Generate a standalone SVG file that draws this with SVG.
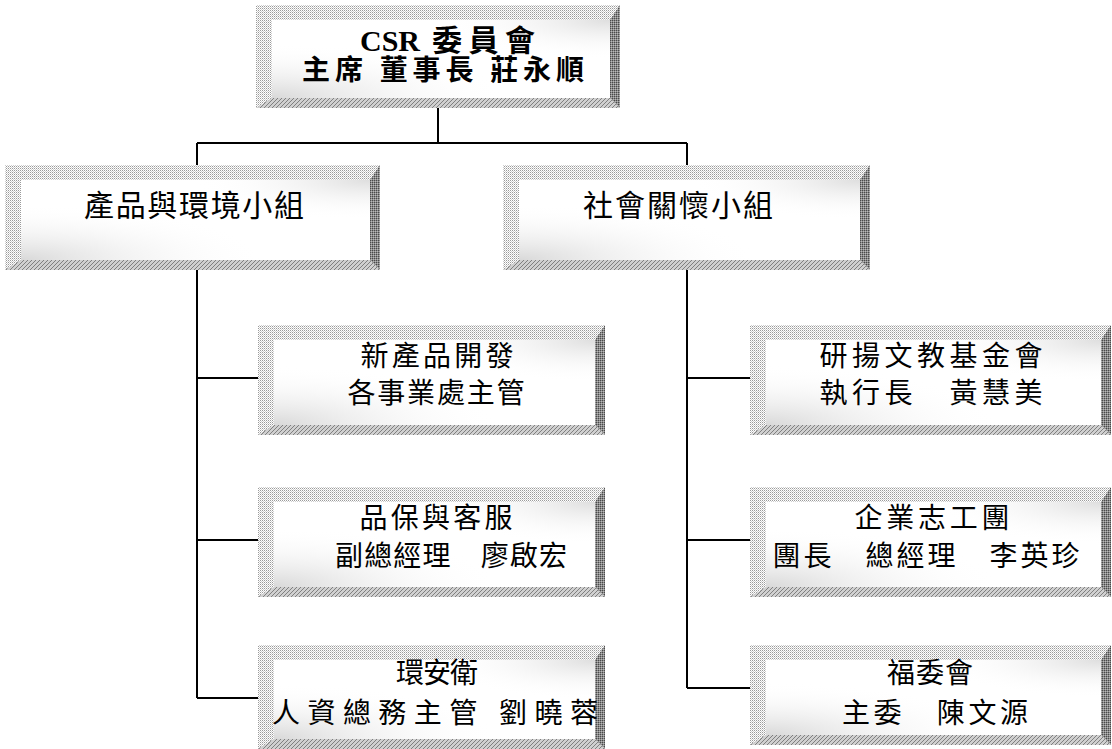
<svg xmlns="http://www.w3.org/2000/svg" width="1112" height="749" viewBox="0 0 1112 749">
<defs>
<pattern id="dither" width="2" height="2" patternUnits="userSpaceOnUse"><rect width="2" height="2" fill="#ffffff"/><rect width="1" height="1" fill="#9a9a9a"/><rect x="1" y="1" width="1" height="1" fill="#cfcfcf"/></pattern>
<pattern id="dark" width="2" height="2" patternUnits="userSpaceOnUse"><rect width="2" height="2" fill="#8a8a8a"/><rect width="1" height="1" fill="#4a4a4a"/><rect x="1" y="1" width="1" height="1" fill="#b8b8b8"/></pattern>
<pattern id="hatch" width="4" height="4" patternUnits="userSpaceOnUse"><rect width="4" height="4" fill="#d0d0d0"/><path d="M0,4 L4,0 M-1,1 L1,-1 M3,5 L5,3" stroke="#808080" stroke-width="1"/></pattern>
<radialGradient id="shade" cx="0" cy="1" r="0.7"><stop offset="0" stop-color="#c8c8c8" stop-opacity="0.7"/><stop offset="1" stop-color="#ffffff" stop-opacity="0"/></radialGradient>
<radialGradient id="shade2" cx="1" cy="0" r="0.5"><stop offset="0" stop-color="#c8c8c8" stop-opacity="0.6"/><stop offset="1" stop-color="#ffffff" stop-opacity="0"/></radialGradient>
</defs>
<style>
.frame{fill:url(#dither)}
.rside{fill:url(#dark)}
.bside{fill:url(#hatch)}
.face{fill:#ffffff}
.sh{fill:url(#shade)}
.sh2{fill:url(#shade2)}
.t{font-family:"Liberation Serif","Noto Sans CJK TC",serif;fill:#000;text-anchor:middle;font-size:28px}
.ts{text-anchor:start}
.tt{font-size:28px;font-weight:bold}
.tg{font-size:30px}
.conn{stroke:#000;stroke-width:2;fill:none}
</style>
<g id="connectors">
<path class="conn" d="M438,108 V143 M197,143 H687 M197,143 V165 M687,143 V165"/>
<path class="conn" d="M197,270 V698 M197,378 H258 M197,540 H258 M197,698 H258"/>
<path class="conn" d="M687,270 V688 M687,378 H750 M687,540 H750 M687,688 H750"/>
</g>
<g id="top">
<rect class="frame" x="256" y="5" width="364" height="103"/>
<polygon class="rside" points="620,5 620,108 610,98 610,20"/>
<polygon class="bside" points="256,108 620,108 610,98 272,98"/>
<rect class="face" x="272" y="20" width="338" height="78"/>
<rect class="sh" x="272" y="20" width="338" height="78"/>
<rect class="sh2" x="272" y="20" width="338" height="78"/>
<text class="t tt ts" x="360" y="51" style="font-size:30px">CSR <tspan x="432" textLength="103" lengthAdjust="spacing">委員會</tspan></text>
<text class="t tt" x="443" y="80" textLength="282" lengthAdjust="spacing">主席 董事長 莊永順</text>
</g>
<g id="g1">
<rect class="frame" x="5" y="165" width="375" height="105"/>
<polygon class="rside" points="380,165 380,270 370,260 370,180"/>
<polygon class="bside" points="5,270 380,270 370,260 21,260"/>
<rect class="face" x="21" y="180" width="349" height="80"/>
<rect class="sh" x="21" y="180" width="349" height="80"/>
<rect class="sh2" x="21" y="180" width="349" height="80"/>
<text class="t tg" x="194" y="216" textLength="220" lengthAdjust="spacing">產品與環境小組</text>
</g>
<g id="g2">
<rect class="frame" x="503" y="165" width="367" height="105"/>
<polygon class="rside" points="870,165 870,270 860,260 860,180"/>
<polygon class="bside" points="503,270 870,270 860,260 519,260"/>
<rect class="face" x="519" y="180" width="341" height="80"/>
<rect class="sh" x="519" y="180" width="341" height="80"/>
<rect class="sh2" x="519" y="180" width="341" height="80"/>
<text class="t tg" x="678" y="216" textLength="190" lengthAdjust="spacing">社會關懷小組</text>
</g>
<g id="L1">
<rect class="frame" x="258" y="325" width="347" height="110"/>
<polygon class="rside" points="605,325 605,435 595,425 595,340"/>
<polygon class="bside" points="258,435 605,435 595,425 274,425"/>
<rect class="face" x="274" y="340" width="321" height="85"/>
<rect class="sh" x="274" y="340" width="321" height="85"/>
<rect class="sh2" x="274" y="340" width="321" height="85"/>
<text class="t" x="437" y="366" textLength="153" lengthAdjust="spacing">新產品開發</text>
<text class="t" x="436" y="403" textLength="177" lengthAdjust="spacing">各事業處主管</text>
</g>
<g id="L2">
<rect class="frame" x="258" y="487" width="347" height="110"/>
<polygon class="rside" points="605,487 605,597 595,587 595,502"/>
<polygon class="bside" points="258,597 605,597 595,587 274,587"/>
<rect class="face" x="274" y="502" width="321" height="85"/>
<rect class="sh" x="274" y="502" width="321" height="85"/>
<rect class="sh2" x="274" y="502" width="321" height="85"/>
<text class="t" x="436" y="528" textLength="153" lengthAdjust="spacing">品保與客服</text>
<text class="t" x="451" y="566" textLength="232" lengthAdjust="spacing">副總經理　廖啟宏</text>
</g>
<g id="L3">
<rect class="frame" x="258" y="645" width="347" height="104"/>
<polygon class="rside" points="605,645 605,749 595,739 595,660"/>
<polygon class="bside" points="258,749 605,749 595,739 274,739"/>
<rect class="face" x="274" y="660" width="321" height="79"/>
<rect class="sh" x="274" y="660" width="321" height="79"/>
<rect class="sh2" x="274" y="660" width="321" height="79"/>
<text class="t" x="437" y="683" textLength="82" lengthAdjust="spacing">環安衛</text>
<text class="t" x="435" y="723" textLength="326" lengthAdjust="spacing">人資總務主管 劉曉蓉</text>
</g>
<g id="R1">
<rect class="frame" x="750" y="325" width="361" height="110"/>
<polygon class="rside" points="1111,325 1111,435 1101,425 1101,340"/>
<polygon class="bside" points="750,435 1111,435 1101,425 766,425"/>
<rect class="face" x="766" y="340" width="335" height="85"/>
<rect class="sh" x="766" y="340" width="335" height="85"/>
<rect class="sh2" x="766" y="340" width="335" height="85"/>
<text class="t" x="931" y="366" textLength="223" lengthAdjust="spacing">研揚文教基金會</text>
<text class="t" x="931" y="403" textLength="223" lengthAdjust="spacing">執行長　黃慧美</text>
</g>
<g id="R2">
<rect class="frame" x="750" y="487" width="361" height="110"/>
<polygon class="rside" points="1111,487 1111,597 1101,587 1101,502"/>
<polygon class="bside" points="750,597 1111,597 1101,587 766,587"/>
<rect class="face" x="766" y="502" width="335" height="85"/>
<rect class="sh" x="766" y="502" width="335" height="85"/>
<rect class="sh2" x="766" y="502" width="335" height="85"/>
<text class="t" x="932" y="528" textLength="155" lengthAdjust="spacing">企業志工團</text>
<text class="t" x="926" y="566" textLength="307" lengthAdjust="spacing">團長　總經理　李英珍</text>
</g>
<g id="R3">
<rect class="frame" x="750" y="645" width="361" height="100"/>
<polygon class="rside" points="1111,645 1111,745 1101,735 1101,660"/>
<polygon class="bside" points="750,745 1111,745 1101,735 766,735"/>
<rect class="face" x="766" y="660" width="335" height="75"/>
<rect class="sh" x="766" y="660" width="335" height="75"/>
<rect class="sh2" x="766" y="660" width="335" height="75"/>
<text class="t" x="930" y="683" textLength="86" lengthAdjust="spacing">福委會</text>
<text class="t" x="935" y="723" textLength="186" lengthAdjust="spacing">主委　陳文源</text>
</g>
</svg>
